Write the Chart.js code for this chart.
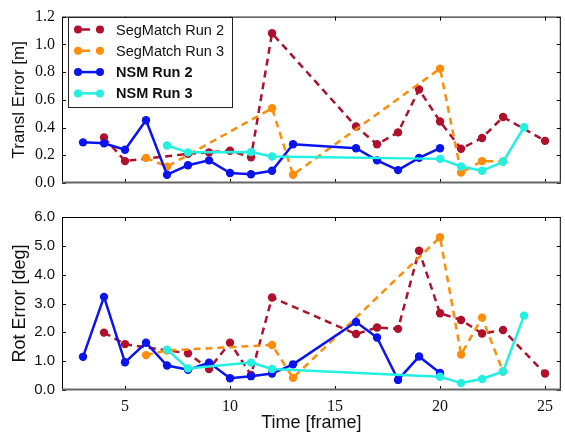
<!DOCTYPE html>
<html>
<head>
<meta charset="utf-8">
<script src="https://cdn.jsdelivr.net/npm/chart.js@4.4.0/dist/chart.umd.min.js"></script>
<style>
  body { margin: 0; background: #fff; }
  #wrap { position: relative; width: 565px; height: 436px; }
  canvas { position: absolute; left: 0; }
</style>
</head>
<body>
<div id="wrap">
  <canvas id="transl" width="565" height="200" style="top:0"></canvas>
  <canvas id="rot" width="565" height="236" style="top:200px"></canvas>
</div>
<script>
var xTicks = [5, 10, 15, 20, 25];
var translTicks = [0, 0.2, 0.4, 0.6, 0.8, 1.0, 1.2];
var translTickLabels = ['0.0', '0.2', '0.4', '0.6', '0.8', '1.0', '1.2'];
var rotTicks = [0, 1, 2, 3, 4, 5, 6];
var rotTickLabels = ['0.0', '1.0', '2.0', '3.0', '4.0', '5.0', '6.0'];

var segRun2Frames = [4, 5, 8, 9, 10, 11, 12, 16, 17, 18, 19, 20, 21, 22, 23, 25];
var segRun2Transl = [0.328, 0.158, 0.21, 0.221, 0.233, 0.186, 1.08, 0.407, 0.279, 0.365, 0.674, 0.444, 0.247, 0.325, 0.476, 0.304];
var segRun2Rot = [1.99, 1.59, 1.27, 0.73, 1.64, 0.52, 3.21, 1.94, 2.17, 2.12, 4.83, 2.66, 2.43, 1.96, 2.08, 0.57];

var segRun3Frames = [6, 7, 12, 13, 20, 21, 22, 23];
var segRun3Transl = [0.181, 0.118, 0.539, 0.06, 0.825, 0.075, 0.158, 0.155];
var segRun3Rot = [1.21, 1.37, 1.56, 0.42, 5.30, 1.23, 2.51, 0.64];

var nsmRun2Frames = [3, 4, 5, 6, 7, 8, 9, 10, 11, 12, 13, 16, 17, 18, 19, 20];
var nsmRun2Transl = [0.293, 0.286, 0.24, 0.453, 0.06, 0.128, 0.163, 0.072, 0.063, 0.088, 0.279, 0.251, 0.163, 0.093, 0.181, 0.251];
var nsmRun2Rot = [1.15, 3.23, 0.96, 1.64, 0.85, 0.70, 0.95, 0.41, 0.48, 0.57, 0.89, 2.36, 1.82, 0.35, 1.16, 0.59];

var nsmRun3Frames = [7, 8, 11, 12, 20, 21, 22, 23, 24];
var nsmRun3Transl = [0.27, 0.221, 0.223, 0.191, 0.174, 0.119, 0.088, 0.153, 0.402];
var nsmRun3Rot = [1.40, 0.75, 0.95, 0.73, 0.46, 0.24, 0.38, 0.64, 2.58];

var labels = ['SegMatch Run 2', 'SegMatch Run 3', 'NSM Run 2', 'NSM Run 3'];
var colors = ['#b0102c', '#ff8c0a', '#0a14f0', '#22f0e0'];
var dashes = [[7, 5], [7, 5], [], []];

var serif = '"Liberation Serif", "Times New Roman", serif';
var sans = '"Liberation Sans", Arial, sans-serif';

function pts(xs, ys) {
  return xs.map(function (x, i) { return { x: x, y: ys[i] }; });
}

function makeSets(series) {
  return series.map(function (s, i) {
    return {
      label: labels[i],
      data: s,
      borderColor: colors[i],
      backgroundColor: colors[i],
      borderWidth: 2.5,
      borderDash: dashes[i],
      pointRadius: 4.2,
      pointBorderWidth: 0,
      pointHoverRadius: 4.2,
      fill: false,
      tension: 0,
      order: 4 - i
    };
  });
}

// box round the plot with inward ticks on all sides
var frame = {
  id: 'frame',
  afterDraw: function (chart) {
    var c = chart.ctx, a = chart.chartArea;
    var xs = chart.scales.x, ys = chart.scales.y;
    c.save();
    c.strokeStyle = '#000';
    c.lineWidth = 1;
    c.strokeRect(a.left + 0.5, a.top + 0.5, a.right - a.left - 1, a.bottom - a.top - 1);
    c.beginPath();
    xs.ticks.forEach(function (t) {
      var px = Math.round(xs.getPixelForValue(t.value)) + 0.5;
      c.moveTo(px, a.bottom); c.lineTo(px, a.bottom - 4);
      c.moveTo(px, a.top); c.lineTo(px, a.top + 4);
    });
    ys.ticks.forEach(function (t) {
      var py = Math.round(ys.getPixelForValue(t.value)) + 0.5;
      c.moveTo(a.left, py); c.lineTo(a.left + 4, py);
      c.moveTo(a.right, py); c.lineTo(a.right - 4, py);
    });
    c.stroke();
    c.strokeStyle = '#666';
    c.lineWidth = 2;
    c.beginPath();
    c.moveTo(a.left, a.bottom - 0.5);
    c.lineTo(a.right, a.bottom - 0.5);
    c.stroke();
    c.restore();
  }
};

var boxLegend = {
  id: 'boxLegend',
  afterDraw: function (chart) {
    var c = chart.ctx;
    var x0 = 68, y0 = 17, w = 164, h = 90;
    c.save();
    c.fillStyle = '#fff';
    c.fillRect(x0, y0, w, h);
    c.strokeStyle = '#222';
    c.lineWidth = 1;
    c.strokeRect(x0 + 0.5, y0 + 0.5, w, h);
    labels.forEach(function (lab, i) {
      var y = 29.5 + i * 21.3;
      c.strokeStyle = colors[i];
      c.fillStyle = colors[i];
      c.lineWidth = 2.5;
      c.setLineDash(dashes[i].length ? [8, 6] : []);
      c.lineDashOffset = dashes[i].length ? -4 : 0;
      c.beginPath();
      c.moveTo(78, y); c.lineTo(100, y);
      c.stroke();
      c.setLineDash([]);
      [78, 100].forEach(function (mx) {
        c.beginPath();
        c.arc(mx, y, 4, 0, Math.PI * 2);
        c.fill();
      });
      c.fillStyle = '#111';
      c.font = (i > 1 ? 'bold ' : '') + '14.5px ' + sans;
      c.textBaseline = 'middle';
      c.fillText(lab, 116, y + 1);
    });
    c.restore();
  }
};

function fixedTicks(values) {
  return function (s) { s.ticks = values.map(function (v) { return { value: v }; }); };
}

function xScale(showLabels, h) {
  return {
    type: 'linear',
    min: 2,
    max: 25.75,
    afterBuildTicks: fixedTicks(xTicks),
    afterFit: function (s) { s.height = h; },
    grid: { display: false, drawTicks: false },
    border: { display: false },
    ticks: {
      display: showLabels,
      padding: 7,
      color: '#111',
      font: { family: serif, size: 16 }
    },
    title: {
      display: showLabels,
      text: 'Time [frame]',
      color: '#111',
      padding: { top: 0, bottom: 2 },
      font: { family: sans, size: 18 }
    }
  };
}

function yScale(max, ticks, tickLabels, title, family, size, tsize) {
  return {
    min: 0,
    max: max,
    afterFit: function (s) { s.width = 62; },
    afterBuildTicks: fixedTicks(ticks),
    grid: { display: false, drawTicks: false },
    border: { display: false },
    ticks: {
      padding: 7,
      color: '#111',
      font: { family: family, size: size },
      callback: function (v, i) { return tickLabels[i]; }
    },
    title: {
      display: true,
      text: title,
      color: '#111',
      padding: { top: 9, bottom: 0 },
      font: { family: sans, size: tsize }
    }
  };
}

Chart.defaults.animation = false;

new Chart(document.getElementById('transl'), {
  type: 'line',
  data: {
    datasets: makeSets([
      pts(segRun2Frames, segRun2Transl),
      pts(segRun3Frames, segRun3Transl),
      pts(nsmRun2Frames, nsmRun2Transl),
      pts(nsmRun3Frames, nsmRun3Transl)
    ])
  },
  options: {
    responsive: false,
    layout: { padding: { top: 10, right: 2, left: 0, bottom: 0 } },
    plugins: { legend: { display: false }, tooltip: { enabled: false } },
    scales: {
      x: xScale(false, 17),
      y: yScale(1.2, translTicks, translTickLabels, 'Transl Error [m]', serif, 16, 17)
    }
  },
  plugins: [frame, boxLegend]
});

new Chart(document.getElementById('rot'), {
  type: 'line',
  data: {
    datasets: makeSets([
      pts(segRun2Frames, segRun2Rot),
      pts(segRun3Frames, segRun3Rot),
      pts(nsmRun2Frames, nsmRun2Rot),
      pts(nsmRun3Frames, nsmRun3Rot)
    ])
  },
  options: {
    responsive: false,
    layout: { padding: { top: 17, right: 2, left: 0, bottom: 0 } },
    plugins: { legend: { display: false }, tooltip: { enabled: false } },
    scales: {
      x: xScale(true, 46),
      y: yScale(6, rotTicks, rotTickLabels, 'Rot Error [deg]', sans, 15, 18)
    }
  },
  plugins: [frame]
});
</script>
</body>
</html>
